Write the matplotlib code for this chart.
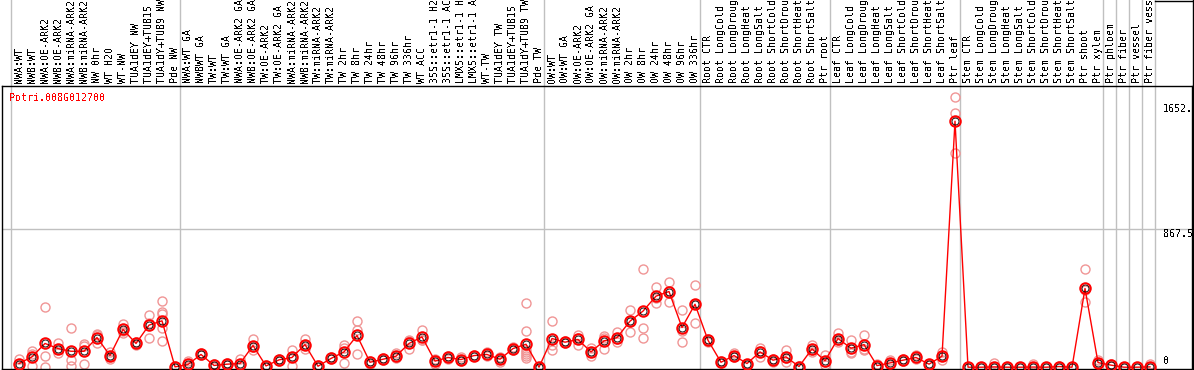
import matplotlib
matplotlib.use("Agg")
import matplotlib.pyplot as plt
import matplotlib.transforms as mtransforms
from matplotlib.lines import Line2D

plt.rcParams['font.family'] = ['DejaVu Sans Mono']
plt.rcParams['text.antialiased'] = False

gene_id = "Potri.008G012700"

labels = [
    # NW
    "NWA:WT", "NWB:WT", "NWA:OE-ARK2", "NWB:OE-ARK2", "NWA:miRNA-ARK2", "NWB:miRNA-ARK2",
    "NW 0hr", "WT H2O", "WT-NW", "TUA1dEY NW", "TUA1dEY+TUB15 ", "TUA1dY+TUB9 NW", "Pde NW",
    # TW
    "NWA:WT GA", "NWBWT GA", "TW:WT", "TW:WT GA", "NWA:OE-ARK2 GA", "NWB:OE-ARK2 GA",
    "TW:OE-ARK2", "TW:OE-ARK2 GA", "NWA:miRNA-ARK2", "NWB:miRNA-ARK2", "TW:miRNA-ARK2",
    "TW:miRNA-ARK2", "TW 2hr", "TW 8hr", "TW 24hr", "TW 48hr", "TW 96hr", "TW 336hr", "WT ACC",
    "35S::etr1-1 H2", "35S::etr1-1 AC", "LMX5::etr1-1 H", "LMX5::etr1-1 A", "WT-TW",
    "TUA1dEY TW", "TUA1dEY+TUB15 ", "TUA1dY+TUB9 TW", "Pde TW",
    # OW
    "OW:WT", "OW:WT GA", "OW:OE-ARK2", "OW:OE-ARK2 GA", "OW:miRNA-ARK2", "OW:miRNA-ARK2",
    "OW 2hr", "OW 8hr", "OW 24hr", "OW 48hr", "OW 96hr", "OW 336hr",
    # root
    "Root CTR", "Root LongCold", "Root LongDroug", "Root LongHeat", "Root LongSalt",
    "Root ShortCold", "Root ShortDrou", "Root ShortHeat", "Root ShortSalt", "Ptr root",
    # leaf
    "Leaf CTR", "Leaf LongCold", "Leaf LongDroug", "Leaf LongHeat", "Leaf LongSalt",
    "Leaf ShortCold", "Leaf ShortDrou", "Leaf ShortHeat", "Leaf ShortSalt", "Ptr leaf",
    # stem
    "Stem CTR", "Stem LongCold", "Stem LongDroug", "Stem LongHeat", "Stem LongSalt",
    "Stem ShortCold", "Stem ShortDrou", "Stem ShortHeat", "Stem ShortSalt", "Ptr shoot", "Ptr xylem",
    # wood tissues
    "Ptr phloem", "Ptr fiber", "Ptr vessel", "Ptr fiber vess",
]

group_sizes = [13, 28, 12, 10, 10, 11, 1, 1, 1, 1]

means = [
    23, 65, 149, 117, 100, 100, 186, 73, 237, 149, 264, 291, 2,
    17, 80, 11, 19, 23, 136, 8, 46, 61, 142, 6, 55, 96, 199, 31, 50, 69, 149, 190, 38,
    61, 48, 73, 80, 50, 117, 144, 0,
    180, 157, 174, 96, 165, 186, 289, 352, 446, 475, 249, 395,
    169, 31, 73, 23, 96, 44, 65, 4, 115, 40,
    180, 119, 142, 10, 27, 44, 61, 19, 69, 1544,
    0, 0, 2, 0, 0, 1, 0, 4, 0, 494, 29,
    13, 0, 0, 2,
]

replicates = [
    [54, 0, 15], [103, 10, 82], [375, 73, 0], [153, 86, 112], [249, 48, 10], [144, 133, 23],
    [211, 199, 149], [96, 52, 71], [270, 215, 226], [159, 138, 150], [326, 186, 280],
    [414, 347, 336, 243, 165], [0, 0, 5],
    [40, 10, 0], [86, 74, 80], [23, 0, 10], [25, 15, 17], [50, 10, 10], [174, 107, 128],
    [10, 0, 15], [50, 40, 48], [107, 10, 66], [174, 113, 140], [0, 5, 12], [61, 50, 55],
    [138, 121, 29], [289, 232, 80], [42, 23, 28], [57, 44, 50], [86, 65, 56], [168, 117, 162],
    [232, 169, 169], [42, 23, 50], [69, 52, 62], [61, 44, 40], [78, 70, 71], [96, 69, 75],
    [65, 34, 50], [125, 110, 117], [406, 228, 110, 95, 85, 70, 60], [0, 0, 0],
    [293, 138, 107], [157, 149, 165], [201, 138, 183], [121, 69, 98], [197, 117, 181],
    [222, 159, 177], [358, 222, 287], [615, 249, 186], [504, 400, 434], [534, 412, 479],
    [362, 157, 228], [515, 276, 394],
    [180, 160, 167], [38, 25, 30], [86, 70, 63], [23, 23, 23], [121, 65, 102], [54, 34, 44],
    [107, 31, 57], [10, 0, 2], [142, 107, 96], [76, 13, 31],
    [215, 169, 156], [169, 90, 98], [205, 107, 114], [20, 5, 5], [44, 23, 15], [54, 40, 38],
    [76, 55, 52], [15, 19, 23], [94, 44, 69], [1695, 1594, 1343],
    [0, 0, 0], [0, 0, 0], [29, 0, 0], [0, 0, 0], [0, 0, 0], [23, 0, 0], [0, 0, 0], [10, 2, 0],
    [0, 0, 0], [615, 483, 410], [44, 25, 18],
    [23, 10, 8], [0, 0, 0], [0, 0, 0], [23, 0, 0],
]

axis_labels = ["1652.", "867.5", "0"]
axis_values = [1652, 867.5, 0]

W, H = 1194, 370
fig = plt.figure(figsize=(W / 100, H / 100), dpi=100)
ax = fig.add_axes([2 / W, 1 / H, 1190 / W, 283 / H])

x = list(range(len(means)))
ax.set_xlim(-1.308, 90.23)
ax.set_ylim(-11.3, 1764.8)
ax.set_xticks([])
ax.set_yticks([])
for s in ax.spines.values():
    s.set_linewidth(1.0)
    s.set_color('black')

# group separators, running up through the label area
b = -0.654
bounds = [b]
for g in group_sizes:
    b += g
    bounds.append(b)
for bx in bounds:
    ax.axvline(bx, ymin=0, ymax=369 / 283, color='#c0c0c0', lw=1.0, clip_on=False, zorder=0)
ax.axhline(867.5, color='#c0c0c0', lw=1.0, zorder=0)

# replicates
for i, reps in enumerate(replicates):
    ax.plot([i] * len(reps), reps, linestyle='none', marker='o', ms=6.5, mfc='none',
            mec='#f09595', mew=1.0, zorder=2, clip_on=False)

ax.plot(x, means, color='red', lw=1.0, zorder=3, clip_on=False)
ax.plot(x, means, linestyle='none', marker='o', ms=7.5, mfc='none', mec='red', mew=1.5,
        zorder=4, clip_on=False)
ax.plot(x, means, linestyle='none', marker='o', ms=5.0, mfc='none', mec='black', mew=0.6,
        zorder=5, clip_on=False)

# sample labels above the plot
tr = mtransforms.blended_transform_factory(ax.transData, ax.transAxes)
tr = mtransforms.offset_copy(tr, fig=fig, x=0, y=3, units='dots')
for i, lab in enumerate(labels):
    ax.text(i, 1.0, lab, rotation=90, ha='center', va='bottom', fontsize=7.2,
            transform=tr, clip_on=False)

ax.text(7 / 1190, 1 - 7 / 283, gene_id, color='red', fontsize=7.2, ha='left', va='top',
        transform=ax.transAxes)

for lab, v in zip(axis_labels, axis_values):
    if v == 0:
        ax.text(88.0, v + 8, lab, fontsize=7.2, ha='left', va='bottom', clip_on=True)
    else:
        ax.text(88.0, v, lab, fontsize=7.2, ha='left', va='top', clip_on=True)

fig.add_artist(Line2D([1192.5 / W, 1192.5 / W], [0, 1], transform=fig.transFigure,
                      color='black', lw=1.0))
fig.add_artist(Line2D([1155 / W, 1193 / W], [1 - 0.5 / H, 1 - 0.5 / H],
                      transform=fig.transFigure, color='black', lw=1.0))

fig.savefig("out.png", dpi=100)
